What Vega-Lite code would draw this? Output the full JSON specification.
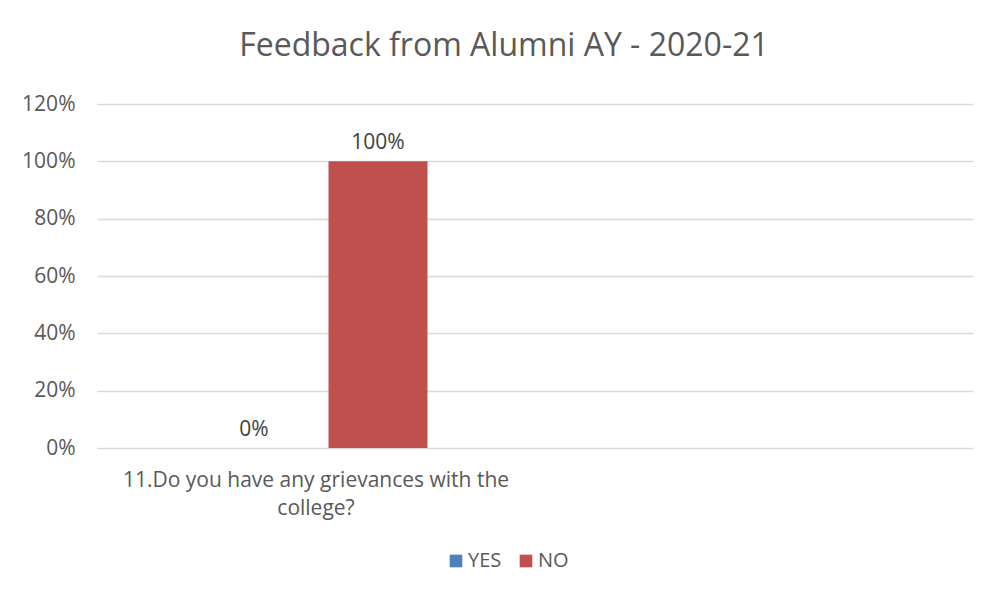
{
  "$schema": "https://vega.github.io/schema/vega-lite/v6.json",
  "autosize": "none",
  "width": 876,
  "height": 344,
  "padding": {"left": 97, "top": 104, "right": 27, "bottom": 149},
  "background": "white",
  "config": {
    "view": {"stroke": null},
    "font": "Open Sans"
  },
  "title": {
    "text": "Feedback from Alumni AY - 2020-21",
    "fontSize": 32,
    "fontWeight": "normal",
    "color": "#595959",
    "anchor": "middle",
    "dx": -31,
    "offset": 30
  },
  "data": {
    "values": [
      {"question": "11.Do you have any grievances with the college?", "answer": "YES", "value": 0},
      {"question": "11.Do you have any grievances with the college?", "answer": "NO", "value": 1}
    ]
  },
  "encoding": {
    "x": {
      "field": "question",
      "type": "nominal",
      "scale": {"domain": ["11.Do you have any grievances with the college?", ""], "paddingInner": 0, "paddingOuter": 0},
      "axis": {
        "title": null,
        "labelAngle": 0,
        "labelExpr": "datum.value == '' ? '' : ['11.Do you have any grievances with the', 'college?']",
        "labelFontSize": 21,
        "labelColor": "#595959",
        "labelPadding": 21,
        "labelLineHeight": 28,
        "ticks": false,
        "domain": false,
        "labelLimit": 600
      }
    },
    "xOffset": {
      "field": "answer",
      "type": "nominal",
      "sort": ["YES", "NO"],
      "scale": {"domain": ["YES", "NO"], "paddingInner": 0.2016, "paddingOuter": 0.867}
    },
    "y": {
      "field": "value",
      "type": "quantitative",
      "scale": {"domain": [0, 1.2]},
      "axis": {
        "title": null,
        "format": ".0%",
        "values": [0, 0.2, 0.4, 0.6, 0.8, 1.0, 1.2],
        "labelFontSize": 21,
        "labelColor": "#595959",
        "labelPadding": 22,
        "ticks": false,
        "domain": false,
        "gridColor": "#d9d9d9",
        "gridWidth": 1.5
      }
    }
  },
  "layer": [
    {
      "mark": {"type": "bar"},
      "encoding": {
        "color": {
          "field": "answer",
          "type": "nominal",
          "sort": ["YES", "NO"],
          "scale": {"domain": ["YES", "NO"], "range": ["#4f81bd", "#c0504d"]},
          "legend": {
            "title": null,
            "orient": "none",
            "direction": "horizontal",
            "legendX": 349,
            "legendY": 447,
            "symbolType": "square",
            "symbolSize": 160,
            "symbolStrokeWidth": 0,
            "labelFontSize": 20,
            "labelColor": "#595959",
            "columnPadding": 14,
            "labelOffset": 2
          }
        }
      }
    },
    {
      "mark": {"type": "text", "baseline": "bottom", "dy": -8, "fontSize": 21, "color": "#404040"},
      "encoding": {
        "text": {"field": "value", "type": "quantitative", "format": ".0%"}
      }
    }
  ]
}
